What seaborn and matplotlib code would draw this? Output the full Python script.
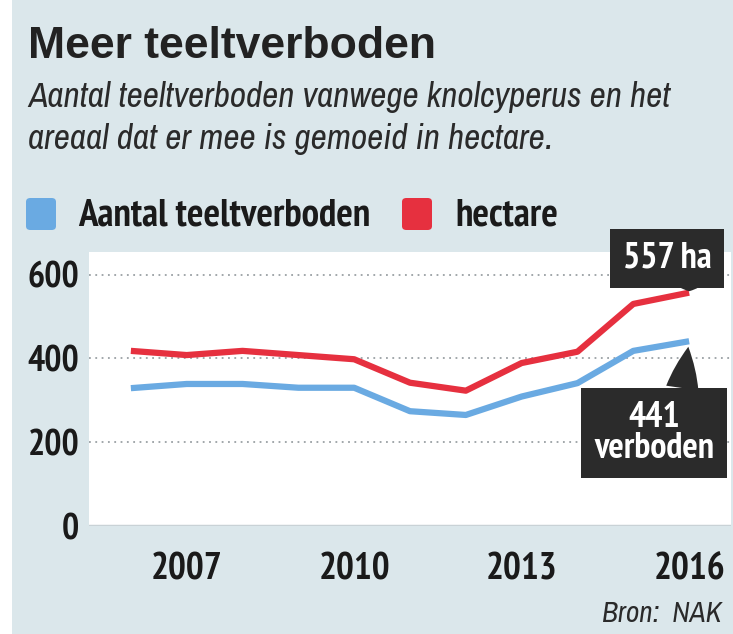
"""
Meer teeltverboden: aantal teeltverboden vanwege knolcyperus en het areaal
(hectare), 2006-2016. Newspaper-style line chart.
"""

import pandas as pd
import matplotlib.pyplot as plt
import matplotlib as mpl
from matplotlib.patches import FancyBboxPatch, Rectangle
import seaborn as sns


YEARS = [2006, 2007, 2008, 2009, 2010, 2011, 2012, 2013, 2014, 2015, 2016]
VERBODEN = [329, 339, 339, 330, 330, 274, 265, 309, 341, 418, 441]
HECTARE = [418, 408, 418, 408, 398, 342, 323, 389, 416, 530, 557]

SERIES = ["Aantal teeltverboden", "hectare"]
COLORS = {"Aantal teeltverboden": "#6aaae2", "hectare": "#e6303f"}

X_TICKS = [2007, 2010, 2013, 2016]
Y_TICKS = [0, 200, 400, 600]

BG = "#dbe7eb"
BOLD_NARROW = ["PT Sans Narrow", "DejaVu Sans"]
ITAL_NARROW = ["Archivo Narrow", "DejaVu Sans"]
W, H = 733, 634


def fx(px):
    return px / W


def fy(py):
    return 1 - py / H


sns.set_style("white")
mpl.rcParams["font.family"] = ["Liberation Sans", "DejaVu Sans"]

df = pd.DataFrame({
    "jaar": YEARS * 2,
    "waarde": VERBODEN + HECTARE,
    "reeks": [SERIES[0]] * len(YEARS) + [SERIES[1]] * len(YEARS),
})

fig = plt.figure(figsize=(W / 100, H / 100), dpi=100, facecolor="white")
# paper background (scan has a thin white border on the left)
fig.patches.append(Rectangle((fx(12), 0), 1, 1, transform=fig.transFigure,
                             facecolor=BG, edgecolor="none", zorder=-10))

ax = fig.add_axes([fx(89), fy(526), fx(731) - fx(89), fy(252) - fy(526)])
ax.set_facecolor("white")

for y in Y_TICKS[1:]:
    ax.axhline(y, color="#9aa0a4", lw=1.3, ls=(0, (1, 2.5)), zorder=1)
ax.axhline(0, color="#c9d2d6", lw=2.5, zorder=1)

sns.lineplot(ax=ax, data=df, x="jaar", y="waarde", hue="reeks",
             palette=COLORS, linewidth=4.5, legend=False, zorder=3,
             solid_capstyle="butt")

ax.set_xlim(2005.25, 2016.75)
ax.set_ylim(0, 654)
ax.set_xticks(X_TICKS)
ax.set_yticks(Y_TICKS)
ax.set_xlabel("")
ax.set_ylabel("")
ax.tick_params(length=0)
ax.tick_params(axis="y", pad=7)
ax.tick_params(axis="x", pad=19)
for lab in ax.get_yticklabels():
    lab.set_fontsize(26)
for lab in ax.get_xticklabels():
    lab.set_fontsize(27)
for lab in ax.get_xticklabels() + ax.get_yticklabels():
    lab.set_family(BOLD_NARROW)
    lab.set_fontweight("bold")
    lab.set_color("#1a1a1a")
for s in ax.spines.values():
    s.set_visible(False)

# title and subtitle
fig.text(fx(28), fy(58), "Meer teeltverboden", fontsize=32, fontweight="bold",
         family=["Liberation Sans", "DejaVu Sans"], color="#222222",
         ha="left", va="baseline")
fig.text(fx(28), fy(107), "Aantal teeltverboden vanwege knolcyperus en het",
         fontsize=25.5, style="italic", family=ITAL_NARROW, color="#2a2a2a",
         ha="left", va="baseline")
fig.text(fx(28), fy(149), "areaal dat er mee is gemoeid in hectare.",
         fontsize=25.5, style="italic", family=ITAL_NARROW, color="#2a2a2a",
         ha="left", va="baseline")

# legend
for (x0, name) in [(26, SERIES[0]), (402, SERIES[1])]:
    fig.patches.append(FancyBboxPatch(
        (fx(x0), fy(230)), fx(30), fy(198) - fy(230),
        boxstyle="round,pad=0,rounding_size=0.006", transform=fig.transFigure,
        facecolor=COLORS[name], edgecolor="none", zorder=2))
fig.text(fx(78), fy(226), SERIES[0], fontsize=28, fontweight="bold",
         family=BOLD_NARROW, color="#1a1a1a", ha="left", va="baseline")
fig.text(fx(455), fy(226), SERIES[1], fontsize=28, fontweight="bold",
         family=BOLD_NARROW, color="#1a1a1a", ha="left", va="baseline")

# end labels
box = dict(boxstyle="square,pad=0.36", facecolor="#2b2b2b", edgecolor="none")
ax.annotate(f"{HECTARE[-1]} ha", xy=(YEARS[-1], HECTARE[-1]), xycoords="data",
            xytext=(fx(667), fy(258)), textcoords="figure fraction",
            ha="center", va="center", fontsize=26, fontweight="bold",
            family=BOLD_NARROW, color="white", bbox=box, zorder=5,
            arrowprops=dict(arrowstyle="wedge,tail_width=0.5,shrink_factor=0.6",
                            facecolor="#2b2b2b", edgecolor="none",
                            relpos=(0.75, 0.0), shrinkA=0, shrinkB=1))
ax.annotate(f"{VERBODEN[-1]}\nverboden", xy=(YEARS[-1], VERBODEN[-1]),
            xycoords="data", xytext=(fx(654), fy(433)),
            textcoords="figure fraction", ha="center", va="center",
            fontsize=26, fontweight="bold", family=BOLD_NARROW, color="white",
            linespacing=0.92, bbox=box, zorder=5,
            arrowprops=dict(arrowstyle="wedge,tail_width=0.9,shrink_factor=0.6",
                            facecolor="#2b2b2b", edgecolor="none",
                            relpos=(0.72, 1.0), shrinkA=0, shrinkB=4))

fig.text(fx(722), fy(622), "Bron:  NAK", fontsize=21, style="italic",
         family=ITAL_NARROW, color="#2a2a2a", ha="right", va="baseline")

fig.savefig("out.png", dpi=100, facecolor=fig.get_facecolor())
